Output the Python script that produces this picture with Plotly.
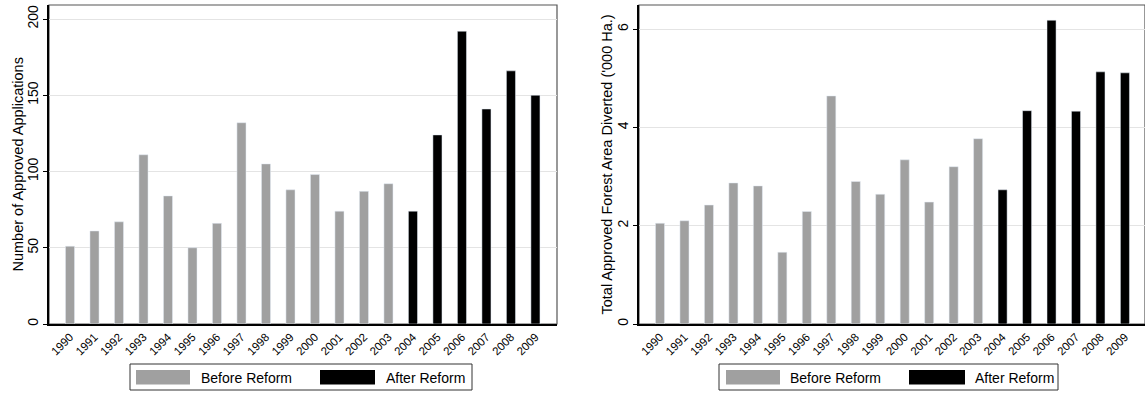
import plotly.graph_objects as go

# Years on the horizontal axis
years_before = ["1990", "1991", "1992", "1993", "1994", "1995", "1996",
                "1997", "1998", "1999", "2000", "2001", "2002", "2003"]
years_after = ["2004", "2005", "2006", "2007", "2008", "2009"]
all_years = years_before + years_after

# Number of approved applications
applications_before = [51, 61, 67, 111, 84, 50, 66, 132, 105, 88, 98, 74, 87, 92]
applications_after = [74, 124, 192, 141, 166, 150]

# Total approved forest area diverted ('000 ha)
area_before = [2.05, 2.10, 2.42, 2.87, 2.81, 1.46, 2.29, 4.64, 2.90, 2.64,
               3.34, 2.48, 3.20, 3.77]
area_after = [2.73, 4.34, 6.18, 4.33, 5.13, 5.11]

left_ticks = [0, 50, 100, 150, 200]
right_ticks = [0, 2, 4, 6]

W, H = 1145, 394
GRAY = "#a0a0a0"
FONT = "Liberation Sans, Arial, sans-serif"


def fx(px):
    return px / W


def fy(py):
    return 1 - py / H


fig = go.Figure()
bar_w = 0.37
fig.add_trace(go.Bar(x=years_before, y=applications_before, marker_color=GRAY,
                     width=bar_w, xaxis="x", yaxis="y", showlegend=False))
fig.add_trace(go.Bar(x=years_after, y=applications_after, marker_color="black",
                     width=bar_w, xaxis="x", yaxis="y", showlegend=False))
fig.add_trace(go.Bar(x=years_before, y=area_before, marker_color=GRAY,
                     width=bar_w, xaxis="x2", yaxis="y2", showlegend=False))
fig.add_trace(go.Bar(x=years_after, y=area_after, marker_color="black",
                     width=bar_w, xaxis="x2", yaxis="y2", showlegend=False))

y_dom = [fy(324), fy(5)]

xaxis_common = dict(
    type="category", categoryorder="array", categoryarray=all_years,
    tickangle=-45, tickfont=dict(size=11.5, color="black", family=FONT),
    showline=True, linecolor="black", linewidth=1.5, ticks="",
    showgrid=False, zeroline=False, automargin=False, fixedrange=True,
)
yaxis_common = dict(
    tickangle=-90, tickfont=dict(size=14, color="black", family=FONT),
    showline=True, linecolor="black", linewidth=1.5, ticks="outside",
    ticklen=4, tickcolor="black", showgrid=True, gridcolor="#e4e4e4",
    gridwidth=1, zeroline=False, automargin=False, domain=y_dom,
)

fig.update_layout(
    width=W, height=H,
    margin=dict(l=0, r=0, t=0, b=0),
    paper_bgcolor="white", plot_bgcolor="white",
    barmode="overlay", showlegend=False,
    font=dict(family=FONT, color="black"),
    xaxis=dict(xaxis_common, domain=[fx(49), fx(557)], range=[-0.857, 19.88],
               anchor="y"),
    yaxis=dict(yaxis_common, range=[0, 209.2], tickvals=left_ticks, anchor="x"),
    xaxis2=dict(xaxis_common, domain=[fx(639), 1.0], range=[-0.858, 19.82],
                anchor="y2"),
    yaxis2=dict(yaxis_common, range=[0, 6.49], tickvals=right_ticks,
                anchor="x2"),
)

shapes = []
annotations = []

# Frame around each plot area
for xr, yr in (("x domain", "y domain"), ("x2 domain", "y2 domain")):
    shapes.append(dict(type="rect", xref=xr, yref=yr, x0=0, x1=1, y0=0, y1=1,
                       line=dict(color="#555555", width=1.2), layer="below"))

# Axis titles
annotations.append(dict(text="Number of Approved Applications", xref="paper",
                        yref="paper", x=fx(18), y=fy(164.5), textangle=-90,
                        showarrow=False, xanchor="center", yanchor="middle",
                        font=dict(size=14.5, color="black", family=FONT)))
annotations.append(dict(text="Total Approved Forest Area Diverted ('000 Ha.)",
                        xref="paper", yref="paper", x=fx(607), y=fy(164.5),
                        textangle=-90, showarrow=False, xanchor="center",
                        yanchor="middle",
                        font=dict(size=14.5, color="black", family=FONT)))

# Legends: box, wide swatches and labels
legend_layout = [
    # box x0, x1, gray swatch x0, x1, label x, black swatch x0, x1, label x
    (130, 472, 136, 190, 199, 320, 375, 384),
    (719, 1058, 726, 780, 788, 909, 965, 973),
]
for bx0, bx1, g0, g1, gt, k0, k1, kt in legend_layout:
    shapes.append(dict(type="rect", xref="paper", yref="paper",
                       x0=fx(bx0), x1=fx(bx1), y0=fy(390), y1=fy(364),
                       line=dict(color="#333333", width=1), fillcolor="white"))
    shapes.append(dict(type="rect", xref="paper", yref="paper",
                       x0=fx(g0), x1=fx(g1), y0=fy(384.5), y1=fy(370),
                       line=dict(width=0), fillcolor=GRAY))
    shapes.append(dict(type="rect", xref="paper", yref="paper",
                       x0=fx(k0), x1=fx(k1), y0=fy(384.5), y1=fy(370),
                       line=dict(width=0), fillcolor="black"))
    annotations.append(dict(text="Before Reform", xref="paper", yref="paper",
                            x=fx(gt), y=fy(377.5), xanchor="left",
                            yanchor="middle", showarrow=False,
                            font=dict(size=14, color="black", family=FONT)))
    annotations.append(dict(text="After Reform", xref="paper", yref="paper",
                            x=fx(kt), y=fy(377.5), xanchor="left",
                            yanchor="middle", showarrow=False,
                            font=dict(size=14, color="black", family=FONT)))

fig.update_layout(shapes=shapes, annotations=annotations)

fig.write_html("out.html")
